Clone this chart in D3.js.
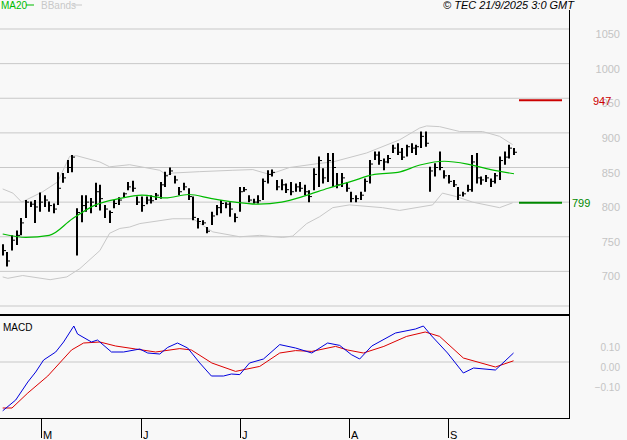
<!DOCTYPE html>
<html>
<head>
<meta charset="utf-8">
<script src="https://cdn.jsdelivr.net/npm/d3@7"></script>
<style>
  body { margin: 0; background: #f8f8f8; }
  svg { display: block; font-family: "Liberation Sans", Arial, sans-serif; }
</style>
</head>
<body>
<svg width="627" height="440"></svg>
<script>
// price bars (high / low / close), one per session
const highs = [739,728,752,759,777,803,801,803,814,810,801,798,843,842,861,868,791,810,810,806,828,825,796,788,803,807,814,
  829,831,808,808,808,810,813,829,844,850,838,822,828,820,808,777,774,764,786,796,803,800,800,784,822,822,810,805,
  810,834,846,847,832,833,827,829,827,829,825,817,849,866,849,871,871,842,842,829,815,810,815,834,861,873,873,863,868,
  883,885,878,883,885,883,902,902,851,856,873,846,839,832,822,815,825,868,871,837,839,834,842,866,873,883,878];
const lows = [723,707,730,738,752,777,793,770,786,793,786,784,796,828,842,843,723,771,786,784,793,788,777,770,791,796,807,
  817,815,796,786,797,798,803,805,822,839,827,810,817,803,774,762,767,755,767,781,784,791,779,771,786,815,800,798,
  798,803,827,837,817,817,813,810,815,815,810,800,817,822,827,829,822,820,822,815,800,800,803,815,827,861,854,846,856,
  871,868,861,866,871,868,878,880,815,837,846,834,827,822,803,808,815,815,827,825,829,822,827,832,854,863,868];
const closes = [730,715,745,752,770,800,797,793,800,803,795,790,820,835,850,865,785,795,800,800,815,805,790,785,798,803,812,
  822,820,800,795,803,802,810,825,838,845,832,815,822,808,778,772,770,758,780,792,798,797,790,778,815,818,803,800,
  802,830,840,843,822,825,818,815,822,820,815,808,840,860,835,860,850,825,835,820,805,805,810,830,855,868,860,858,863,
  878,872,865,880,878,880,895,885,845,850,850,838,830,825,810,812,818,858,835,832,835,830,838,860,865,878,872];

// MA20 every 5 sessions
const maIdx = [0,5,10,15,20,25,30,35,40,45,50,55,60,65,70,75,80,85,90,95,100,105,110];
const maVal = [754,749,752,776,796,805,810,806,811,805,800,797,800,809,820,830,840,843,854,859,855,847,841];

// Bollinger bands (session index, value)
const bbUpIdx = [0,2.2,4.1,8.6,11.8,14.4,15.9,20.9,23,27.3,33.8,35.3,36.6,42.4,49.5,53.8,57.4,61.7,68.2,71,78.3,85.4,89.7,91.2,94,98.3,103.2,106.9,109.7];
const bbUpVal = [819,813,800,815,829,866,867,858,851,854,846,839,842,844,846,847,840,850,856,858,871,890,907,910,909,902,902,895,883];
const bbLoIdx = [0,1.1,4.3,10.2,13.8,16.6,20.9,23,25.2,27.3,29.5,36.6,40.9,45.2,51,55.3,60.2,62.4,65.4,68.2,71,74.6,81.7,85.4,92.5,94.6,97.6,101.1,106.9,109.7];
const bbLoVal = [692,690,694,688,692,704,730,755,762,764,769,776,776,757,750,752,749,751,769,779,792,796,792,788,796,813,808,800,792,799];

// MACD and signal (session index, value)
const macdIdx = [0,2.8,5.4,7.1,8.8,11.4,13.1,15.3,16.1,19.1,20.4,23.4,26,29.5,31.2,33.8,35.5,37.6,39.8,42.4,44.9,47.5,49.2,51,53.1,56.1,59.6,63,66.5,69.9,72.5,75,76.8,79.4,84.5,88.8,90.5,92.3,95.7,99.1,101.3,106,109.9];
const macdVal = [-0.244,-0.19,-0.10,-0.05,0.01,0.05,0.10,0.18,0.14,0.10,0.11,0.05,0.05,0.065,0.045,0.04,0.073,0.095,0.07,-0.005,-0.07,-0.07,-0.06,-0.063,-0.005,0.015,0.087,0.07,0.045,0.095,0.083,0.037,0.015,0.08,0.145,0.165,0.18,0.13,0.045,-0.055,-0.03,-0.04,0.045];
const sigIdx = [0,2,5.4,9.7,14.8,17.4,20.9,24.3,28.6,32.9,38.1,40.6,45,50.1,55.3,59.6,63,66.5,71.6,74.2,77.6,82,86.9,90.9,94,99.1,106,109.9];
const sigVal = [-0.23,-0.23,-0.155,-0.07,0.06,0.095,0.10,0.08,0.065,0.05,0.067,0.06,-0.005,-0.047,-0.022,0.045,0.057,0.053,0.078,0.06,0.045,0.078,0.128,0.15,0.128,0.02,-0.025,0.006];

const monthTicks = [8.2, 29.7, 51, 74.6, 95.7];
const monthLabels = ["M", "J", "J", "A", "S"];
const priceTicks = [700, 750, 800, 850, 900, 950, 1000, 1050];
const macdTicks = [0.10, 0.00, -0.10];
const resistance = 947, support = 799;

const svg = d3.select("svg");
const x = d3.scaleLinear().domain([0, 110]).range([2.7, 514]);
const y = d3.scaleLinear().domain([650, 1050]).range([306, 29]);
const ym = d3.scaleLinear().domain([-0.1, 0.1]).range([382, 342]);

// grid lines
svg.selectAll(".grid").data(d3.range(650, 1051, 50)).enter()
  .append("line").attr("x1", 0).attr("x2", 569)
  .attr("y1", d => y(d)).attr("y2", d => y(d))
  .attr("stroke", "#c8c8c8");
svg.append("line").attr("x1", 0).attr("x2", 569).attr("y1", ym(0)).attr("y2", ym(0)).attr("stroke", "#c8c8c8");

// price labels
svg.selectAll(".pl").data(priceTicks).enter().append("text")
  .attr("x", 620).attr("y", d => y(d) + 9).attr("text-anchor", "end")
  .attr("font-size", 11).attr("fill", "#c4c4c4").text(d => d);
svg.selectAll(".ml").data(macdTicks).enter().append("text")
  .attr("x", 620).attr("y", d => ym(d) + 9).attr("text-anchor", "end")
  .attr("font-size", 10).attr("fill", "#c4c4c4").text(d => d3.format(".2f")(d));

// bollinger bands
const lineGen = (xs, sy) => d3.line().x((d, i) => x(xs[i])).y(d => sy(d));
svg.append("path").attr("d", lineGen(bbUpIdx, y)(bbUpVal)).attr("fill", "none").attr("stroke", "#c8c8c8");
svg.append("path").attr("d", lineGen(bbLoIdx, y)(bbLoVal)).attr("fill", "none").attr("stroke", "#c8c8c8");

// bars
const bars = svg.append("g");
highs.forEach((h, i) => {
  const xi = Math.round(x(i));
  bars.append("line").attr("x1", xi).attr("x2", xi).attr("y1", y(h)).attr("y2", y(lows[i]))
    .attr("stroke", "#000").attr("stroke-width", 2);
  bars.append("line").attr("x1", xi).attr("x2", xi + 3).attr("y1", y(closes[i])).attr("y2", y(closes[i]))
    .attr("stroke", "#000");
});

// MA20
svg.append("path").attr("d", lineGen(maIdx, y).curve(d3.curveMonotoneX)(maVal))
  .attr("fill", "none").attr("stroke", "#00bb00").attr("stroke-width", 1.2);

// levels
svg.append("line").attr("x1", 519).attr("x2", 562).attr("y1", y(resistance)).attr("y2", y(resistance))
  .attr("stroke", "#cc0000").attr("stroke-width", 2);
svg.append("text").attr("x", 593).attr("y", y(resistance) + 5).attr("font-size", 11).attr("fill", "#cc0000").text(resistance);
svg.append("line").attr("x1", 519).attr("x2", 562).attr("y1", y(support)).attr("y2", y(support))
  .attr("stroke", "#008800").attr("stroke-width", 2);
svg.append("text").attr("x", 572).attr("y", y(support) + 4).attr("font-size", 11).attr("fill", "#008800").text(support);

// MACD
svg.append("path").attr("d", lineGen(sigIdx, ym)(sigVal)).attr("fill", "none").attr("stroke", "#dd0000");
svg.append("path").attr("d", lineGen(macdIdx, ym)(macdVal)).attr("fill", "none").attr("stroke", "#0000dd");
svg.append("text").attr("x", 3).attr("y", 331).attr("font-size", 10).text("MACD");

// frame
svg.append("line").attr("x1", 0).attr("x2", 570).attr("y1", 315).attr("y2", 315).attr("stroke", "#000").attr("stroke-width", 2);
svg.append("line").attr("x1", 0).attr("x2", 570).attr("y1", 418.5).attr("y2", 418.5).attr("stroke", "#000");
svg.append("line").attr("x1", 569.5).attr("x2", 569.5).attr("y1", 10).attr("y2", 419).attr("stroke", "#000");

// month ticks
monthTicks.forEach((t, i) => {
  const xt = Math.round(x(t)) + 0.5;
  svg.append("line").attr("x1", xt).attr("x2", xt).attr("y1", 419).attr("y2", 438).attr("stroke", "#000");
  svg.append("text").attr("x", xt + 1.5).attr("y", 439).attr("font-size", 11).text(monthLabels[i]);
});

// legend + credit
svg.append("text").attr("x", 1).attr("y", 9).attr("font-size", 10).attr("fill", "#00bb00").text("MA20");
svg.append("line").attr("x1", 26).attr("x2", 34).attr("y1", 5).attr("y2", 5).attr("stroke", "#00bb00");
svg.append("text").attr("x", 41).attr("y", 9).attr("font-size", 10).attr("fill", "#c8c8c8").text("BBands");
svg.append("line").attr("x1", 73).attr("x2", 82).attr("y1", 5).attr("y2", 5).attr("stroke", "#c8c8c8");
svg.append("text").attr("x", 574).attr("y", 9).attr("text-anchor", "end").attr("font-size", 11)
  .attr("font-style", "italic").text("© TEC 21/9/2025 3:0 GMT");
</script>
</body>
</html>
